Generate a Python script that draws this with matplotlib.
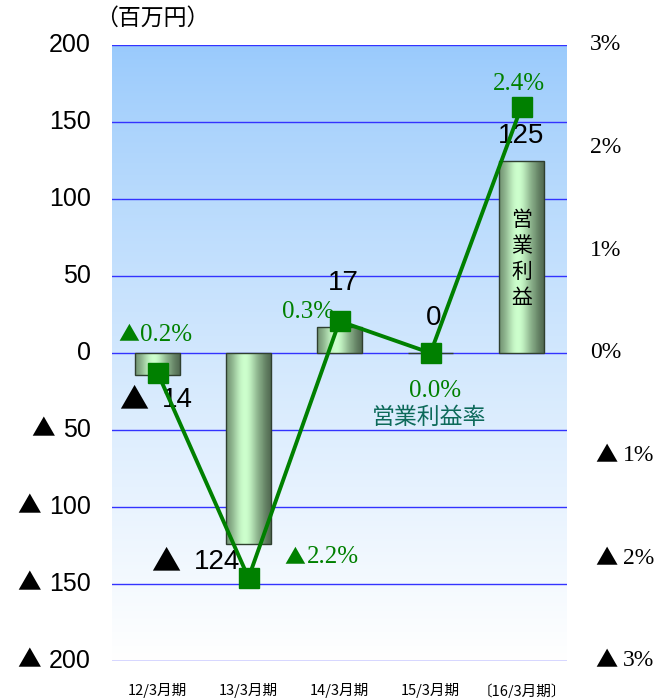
import matplotlib
matplotlib.use("Agg")
import matplotlib.pyplot as plt
import numpy as np
from matplotlib.transforms import blended_transform_factory

# data
periods = ["12/3月期", "13/3月期", "14/3月期", "15/3月期", "〔16/3月期〕"]
profit = [-14, -124, 17, 0, 125]          # 百万円
margin = [-0.19, -2.19, 0.31, 0.0, 2.4]   # %
left_ticks = [-200, -150, -100, -50, 0, 50, 100, 150, 200]
right_ticks = [-3, -2, -1, 0, 1, 2, 3]

SANS = ["Liberation Sans", "DejaVu Sans"]
SERIF = ["Liberation Serif", "DejaVu Serif"]
CJK = ["Noto Sans CJK JP", "DejaVu Sans"]
GREEN = "#008000"


def with_triangle(ax, text_artist, size, gap, color="black"):
    # ▲ placed just left of a number text
    ax.annotate("▲", xy=(0, 0.5), xycoords=text_artist, xytext=(-gap, 0),
                textcoords="offset points", ha="right", va="center",
                fontsize=size, family=CJK, color=color, zorder=6,
                annotation_clip=False)


fig = plt.figure(figsize=(6.6, 6.98), dpi=100)
ax = fig.add_axes([112 / 660, 1 - 661 / 698, 455 / 660, 616 / 698])
ax2 = ax.twinx()

x = np.arange(len(periods))

# background gradient, light blue at top to white at bottom
bg = np.linspace(0, 1, 256).reshape(-1, 1)
top = np.array([153, 202, 252]) / 255
bot = np.array([255, 255, 255]) / 255
img = top + (bot - top) * bg[..., None] ** 0.85
ax.imshow(img, extent=[0, 1, 0, 1], transform=ax.transAxes, aspect="auto", zorder=0)

for v in left_ticks:
    ax.axhline(v, color="#3333ff", lw=1.0, zorder=1)

for s in ["top", "bottom", "left", "right"]:
    ax.spines[s].set_visible(False)
    ax2.spines[s].set_visible(False)

# bars with cylinder shading
bars = ax.bar(x, profit, width=0.49, color="none", edgecolor="#2f3f2f", lw=1.0, zorder=3)
prof = np.linspace(0, 1, 200)
edge = np.array([100, 130, 100]) / 255
mid = np.array([205, 255, 205]) / 255
w = np.exp(-((prof - 0.42) / 0.3) ** 2)
shade = edge + (mid - edge) * w[:, None]
shade[prof > 0.8] *= np.linspace(1, 0.8, (prof > 0.8).sum())[:, None]
shade = shade.reshape(1, -1, 3)
for b in bars:
    x0, y0 = b.get_x(), b.get_y()
    x1, y1 = x0 + b.get_width(), y0 + b.get_height()
    if y0 == y1:
        continue
    im = ax.imshow(shade, extent=[x0, x1, min(y0, y1), max(y0, y1)], aspect="auto", zorder=2)
    im.set_clip_path(b)

ax.set_xlim(-0.5, len(periods) - 0.5)
ax.set_ylim(-200, 200)
ax2.set_ylim(-3, 3)

# line
ax2.plot(x, margin, color=GREEN, lw=2.8, marker="s", markersize=14, zorder=5)
ax2.set_zorder(ax.get_zorder() + 1)
ax2.patch.set_visible(False)

# axis labels drawn by hand so the triangles can be big
ax.set_yticks([])
ax2.set_yticks([])
tl = blended_transform_factory(ax.transAxes, ax.transData)
for v in left_ticks:
    t = ax.text(-0.046, v, f"{abs(v)}", transform=tl, fontsize=18, family=SANS,
                ha="right", va="center", clip_on=False)
    if v < 0:
        with_triangle(ax, t, 17, 6)

tr = blended_transform_factory(ax2.transAxes, ax2.transData)
for v in right_ticks:
    if v < 0:
        t = ax2.text(1.123, v, f"{abs(v)}%", transform=tr, fontsize=17, family=SERIF,
                     ha="left", va="center", clip_on=False)
        with_triangle(ax2, t, 16, 4)
    else:
        ax2.text(1.05, v, f"{v}%", transform=tr, fontsize=17, family=SERIF,
                 ha="left", va="center", clip_on=False)

ax.set_xticks(x)
ax.set_xticklabels(periods, fontsize=10.5, family=CJK)
ax.tick_params(axis="x", length=0, pad=16)

fig.text(95 / 660, 1 - 18 / 698, "（百万円）", fontsize=16.5, family=CJK, va="center", ha="left")

# profit labels
t = ax.text(0.05, -30.5, f"{abs(profit[0])}", fontsize=20, family=SANS, ha="left", va="center", zorder=6)
with_triangle(ax, t, 21, 10)
t = ax.text(0.40, -136, f"{abs(profit[1])}", fontsize=20, family=SANS, ha="left", va="center", zorder=6)
with_triangle(ax, t, 21, 10)
ax.text(2.04, 45.5, f"{profit[2]}", fontsize=20, family=SANS, ha="center", va="center", zorder=6)
ax.text(3.03, 23, f"{profit[3]}", fontsize=20, family=SANS, ha="center", va="center", zorder=6)
ax.text(4.0, 141, f"{profit[4]}", fontsize=20, family=SANS, ha="center", va="center", zorder=6)

# margin labels
t = ax2.text(-0.19, 0.18, f"{abs(margin[0]):.1f}%", fontsize=18, family=SERIF, color=GREEN,
             ha="left", va="center", zorder=6)
with_triangle(ax2, t, 15, 1, GREEN)
t = ax2.text(1.64, -1.99, f"{abs(margin[1]):.1f}%", fontsize=18, family=SERIF, color=GREEN,
             ha="left", va="center", zorder=6)
with_triangle(ax2, t, 15, 1, GREEN)
ax2.text(1.654, 0.40, f"{margin[2]:.1f}%", fontsize=18, family=SERIF, color=GREEN, ha="center", va="center", zorder=6)
ax2.text(3.05, -0.37, f"{margin[3]:.1f}%", fontsize=18, family=SERIF, color=GREEN, ha="center", va="center", zorder=6)
ax2.text(3.97, 2.62, f"{margin[4]:.1f}%", fontsize=18, family=SERIF, color=GREEN, ha="center", va="center", zorder=6)

ax2.text(2.98, -0.63, "営業利益率", fontsize=16.5, family=CJK, color="#0d6a5a", ha="center", va="center", zorder=6)
ax.text(4.0, 61, "営\n業\n利\n益", fontsize=15, family=CJK, color="black", ha="center", va="center",
        linespacing=1.23, zorder=6)

fig.savefig("out.png", dpi=100)
